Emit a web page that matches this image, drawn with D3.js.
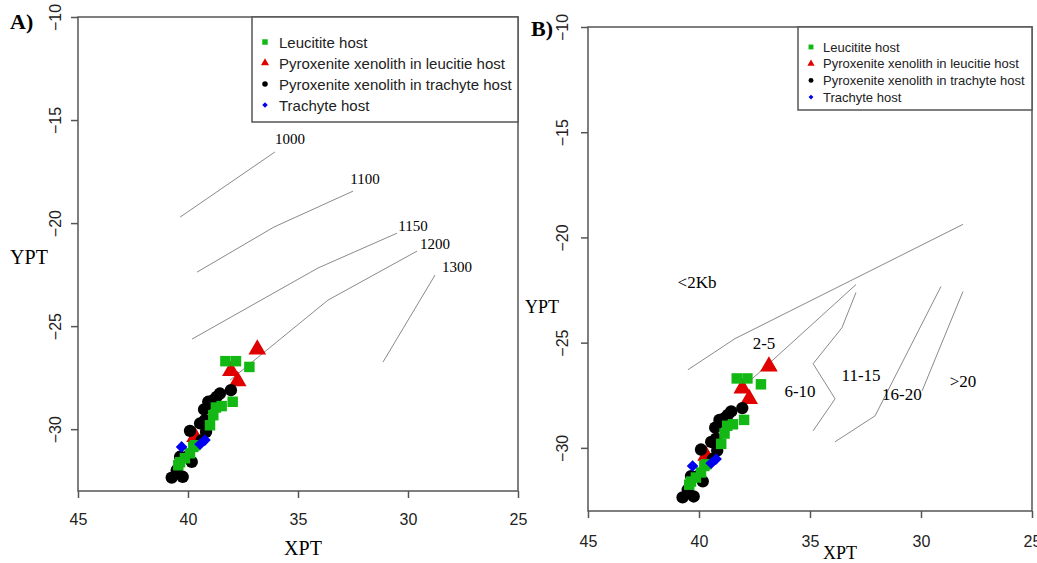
<!DOCTYPE html>
<html>
<head>
<meta charset="utf-8">
<script src="https://cdn.jsdelivr.net/npm/d3@7"></script>
<style>
  body { margin: 0; background: #fff; }
  svg { display: block; }
</style>
</head>
<body>
<svg id="chart" width="1037" height="563"></svg>
<script>
const xTicks = [45, 40, 35, 30, 25];
const yTicks = [-30, -25, -20, -15, -10];
const seriesNames = [
  "Leucitite host",
  "Pyroxenite xenolith in leucitie host",
  "Pyroxenite xenolith in trachyte host",
  "Trachyte host"
];

// [XPT, YPT]
const leucititeHost = [
  [38.30, -26.70], [37.82, -26.70], [37.21, -26.98], [37.97, -28.67],
  [38.47, -28.88], [38.73, -28.95], [38.85, -29.32], [39.00, -29.81],
  [39.68, -30.78], [39.76, -30.86], [39.91, -31.17], [40.14, -31.41],
  [40.36, -31.60], [40.44, -31.75]
];
const pyxLeucitite = [
  [39.68, -30.37], [36.85, -26.13], [38.05, -27.17], [37.74, -27.67]
];
const pyxTrachyte = [
  [38.05, -28.11], [38.55, -28.27], [38.70, -28.43], [38.85, -28.59],
  [39.00, -28.75], [39.08, -28.67], [39.27, -29.04], [39.23, -29.56],
  [39.45, -29.72], [39.18, -30.13], [39.91, -30.08], [39.38, -30.53],
  [40.06, -31.34], [39.83, -31.59], [40.36, -31.34], [40.51, -31.99],
  [40.74, -32.35], [40.24, -32.31]
];
const trachyteHost = [
  [40.29, -30.86], [39.23, -30.53], [39.45, -30.73]
];

// panel A: isotherms
const isothermLabels = ["1000", "1100", "1150", "1200", "1300"];
const isothermLines = [
  [[40.36, -19.71], [36.05, -16.55]],
  [[39.59, -22.38], [36.09, -20.19], [32.50, -18.45]],
  [[39.82, -25.63], [34.09, -22.18], [30.50, -20.49]],
  [[38.09, -27.62], [33.64, -23.74], [29.59, -21.36]],
  [[31.14, -26.75], [28.77, -22.52]]
];
const isothermLabelAt = [
  [35.36, -15.92], [31.95, -17.86], [29.77, -20.15], [28.77, -21.02], [27.77, -22.14]
];

// panel B: isobars
const isobarLabels = ["<2Kb", "2-5", "6-10", "11-15", "16-20", ">20"];
const isobarLines = [
  [[40.50, -26.29], [38.38, -24.81], [28.11, -19.38]],
  [[37.70, -26.81], [32.93, -22.24]],
  [[32.93, -22.62], [33.56, -24.29], [34.86, -26.00], [33.87, -27.67], [34.86, -29.19]],
  [[29.10, -22.33], [32.07, -28.48], [33.87, -29.71]],
  [[28.11, -22.57], [29.95, -27.29]]
];
const isobarLabelAt = [
  [40.09, -22.14], [37.07, -25.05], [35.45, -27.33], [32.70, -26.57], [30.86, -27.48], [28.11, -26.86]
];

// R pch 18 style diamond = square turned 45 degrees
const series = [
  { name: seriesNames[1], data: pyxLeucitite, color: "#e00000", shape: d3.symbolTriangle, size: 135, lsize: 28, rot: 0 },
  { name: seriesNames[2], data: pyxTrachyte, color: "#000000", shape: d3.symbolCircle, size: 120, lsize: 24, rot: 0 },
  { name: seriesNames[0], data: leucititeHost, color: "#14b814", shape: d3.symbolSquare, size: 110, lsize: 30, rot: 0 },
  { name: seriesNames[3], data: trachyteHost, color: "#0000f0", shape: d3.symbolSquare, size: 68, lsize: 15, rot: 45 }
];
const legendOrder = [2, 0, 1, 3];

const svg = d3.select("#chart");
svg.append("rect").attr("width", 1037).attr("height", 563).attr("fill", "#fff");

function drawPanel(cfg) {
  const x = d3.scaleLinear().domain([45, 25]).range([cfg.left, cfg.right]);
  const y = d3.scaleLinear().domain([-33, -10]).range([cfg.bottom, cfg.top]);
  const g = svg.append("g");

  // reference lines
  const line = d3.line().x(d => x(d[0])).y(d => y(d[1]));
  g.selectAll(".ref")
    .data(cfg.lines)
    .enter()
    .append("path")
    .attr("d", line)
    .attr("fill", "none")
    .attr("stroke", "#8a8a8a")
    .attr("stroke-width", 1);

  g.selectAll(".reflab")
    .data(cfg.labels)
    .enter()
    .append("text")
    .attr("x", (d, i) => x(cfg.labelAt[i][0]))
    .attr("y", (d, i) => y(cfg.labelAt[i][1]))
    .attr("text-anchor", "middle")
    .attr("dominant-baseline", "central")
    .style("font-family", "'Liberation Serif', 'Times New Roman', serif")
    .style("font-size", cfg.refFont + "px")
    .text(d => d);

  // points
  series.forEach(s => {
    g.selectAll(null)
      .data(s.data)
      .enter()
      .append("path")
      .attr("d", d3.symbol().type(s.shape).size(s.size))
      .attr("transform", d => `translate(${x(d[0])},${y(d[1])}) rotate(${s.rot})`)
      .attr("fill", s.color);
  });

  // axes
  const xAxis = g.append("g")
    .attr("transform", `translate(0,${cfg.bottom})`)
    .call(d3.axisBottom(x).tickValues(xTicks).tickSize(7).tickPadding(cfg.xPad).tickFormat(d3.format("d")));
  const yAxis = g.append("g")
    .attr("transform", `translate(${cfg.left},0)`)
    .call(d3.axisLeft(y).tickValues(yTicks).tickSize(7).tickFormat(d3.format("d")));
  [xAxis, yAxis].forEach(a => {
    a.select(".domain").remove();
    a.selectAll("line").attr("stroke", "#555").attr("stroke-width", 1.5);
    a.selectAll("text")
      .style("font-family", "'Liberation Sans', Arial, sans-serif")
      .style("font-size", "16px")
      .attr("fill", "#222");
  });
  // R style: y tick labels parallel to the axis
  yAxis.selectAll("text")
    .attr("x", 0).attr("y", 0).attr("dy", null)
    .attr("text-anchor", "middle")
    .attr("dominant-baseline", "central")
    .attr("transform", `translate(${cfg.yLabX - cfg.left},0) rotate(-90)`);

  // box
  g.append("rect")
    .attr("x", cfg.left).attr("y", cfg.top)
    .attr("width", cfg.right - cfg.left).attr("height", cfg.bottom - cfg.top)
    .attr("fill", "none").attr("stroke", "#555").attr("stroke-width", 1.5);

  // axis titles
  g.append("text")
    .attr("x", cfg.xTitle[0]).attr("y", cfg.xTitle[1])
    .attr("text-anchor", "middle").attr("dominant-baseline", "central")
    .style("font-family", "'Liberation Serif', 'Times New Roman', serif")
    .style("font-size", cfg.titleFont + "px")
    .text("XPT");
  g.append("text")
    .attr("x", cfg.yTitle[0]).attr("y", cfg.yTitle[1])
    .attr("text-anchor", "middle").attr("dominant-baseline", "central")
    .style("font-family", "'Liberation Serif', 'Times New Roman', serif")
    .style("font-size", cfg.titleFont + "px")
    .text("YPT");

  // panel tag
  g.append("text")
    .attr("x", cfg.tag[0]).attr("y", cfg.tag[1])
    .style("font-family", "'Liberation Serif', 'Times New Roman', serif")
    .style("font-weight", "bold")
    .style("font-size", "22px")
    .text(cfg.tagText);

  // legend
  const lg = cfg.legend;
  g.append("rect")
    .attr("x", lg.x0).attr("y", cfg.top)
    .attr("width", cfg.right - lg.x0).attr("height", lg.y1 - cfg.top)
    .attr("fill", "#fff").attr("stroke", "#555").attr("stroke-width", 1.5);
  legendOrder.forEach((si, i) => {
    const s = series[si];
    const cy = lg.row0 + i * lg.step;
    g.append("path")
      .attr("d", d3.symbol().type(s.shape).size(s.lsize * lg.scale))
      .attr("transform", `translate(${lg.symX},${cy}) rotate(${s.rot})`)
      .attr("fill", s.color);
    g.append("text")
      .attr("x", lg.textX).attr("y", cy)
      .attr("dominant-baseline", "central")
      .style("font-family", "'Liberation Sans', Arial, sans-serif")
      .style("font-size", lg.font + "px")
      .attr("fill", "#222")
      .text(s.name);
  });
}

drawPanel({
  left: 78, right: 518, top: 17, bottom: 491,
  xPad: 16, yLabX: 55,
  lines: isothermLines, labels: isothermLabels, labelAt: isothermLabelAt, refFont: 15,
  xTitle: [303, 548], yTitle: [29, 257], titleFont: 20,
  tag: [10, 29], tagText: "A)",
  legend: { x0: 252, y1: 122, row0: 42, step: 21, symX: 265, textX: 279, font: 15, scale: 1 }
});

drawPanel({
  left: 588, right: 1032, top: 27, bottom: 511,
  xPad: 18, yLabX: 562,
  lines: isobarLines, labels: isobarLabels, labelAt: isobarLabelAt, refFont: 17,
  xTitle: [840, 553], yTitle: [542, 307], titleFont: 18,
  tag: [531, 36], tagText: "B)",
  legend: { x0: 798, y1: 110, row0: 47, step: 16.7, symX: 811, textX: 823, font: 13, scale: 0.8 }
});
</script>
</body>
</html>
